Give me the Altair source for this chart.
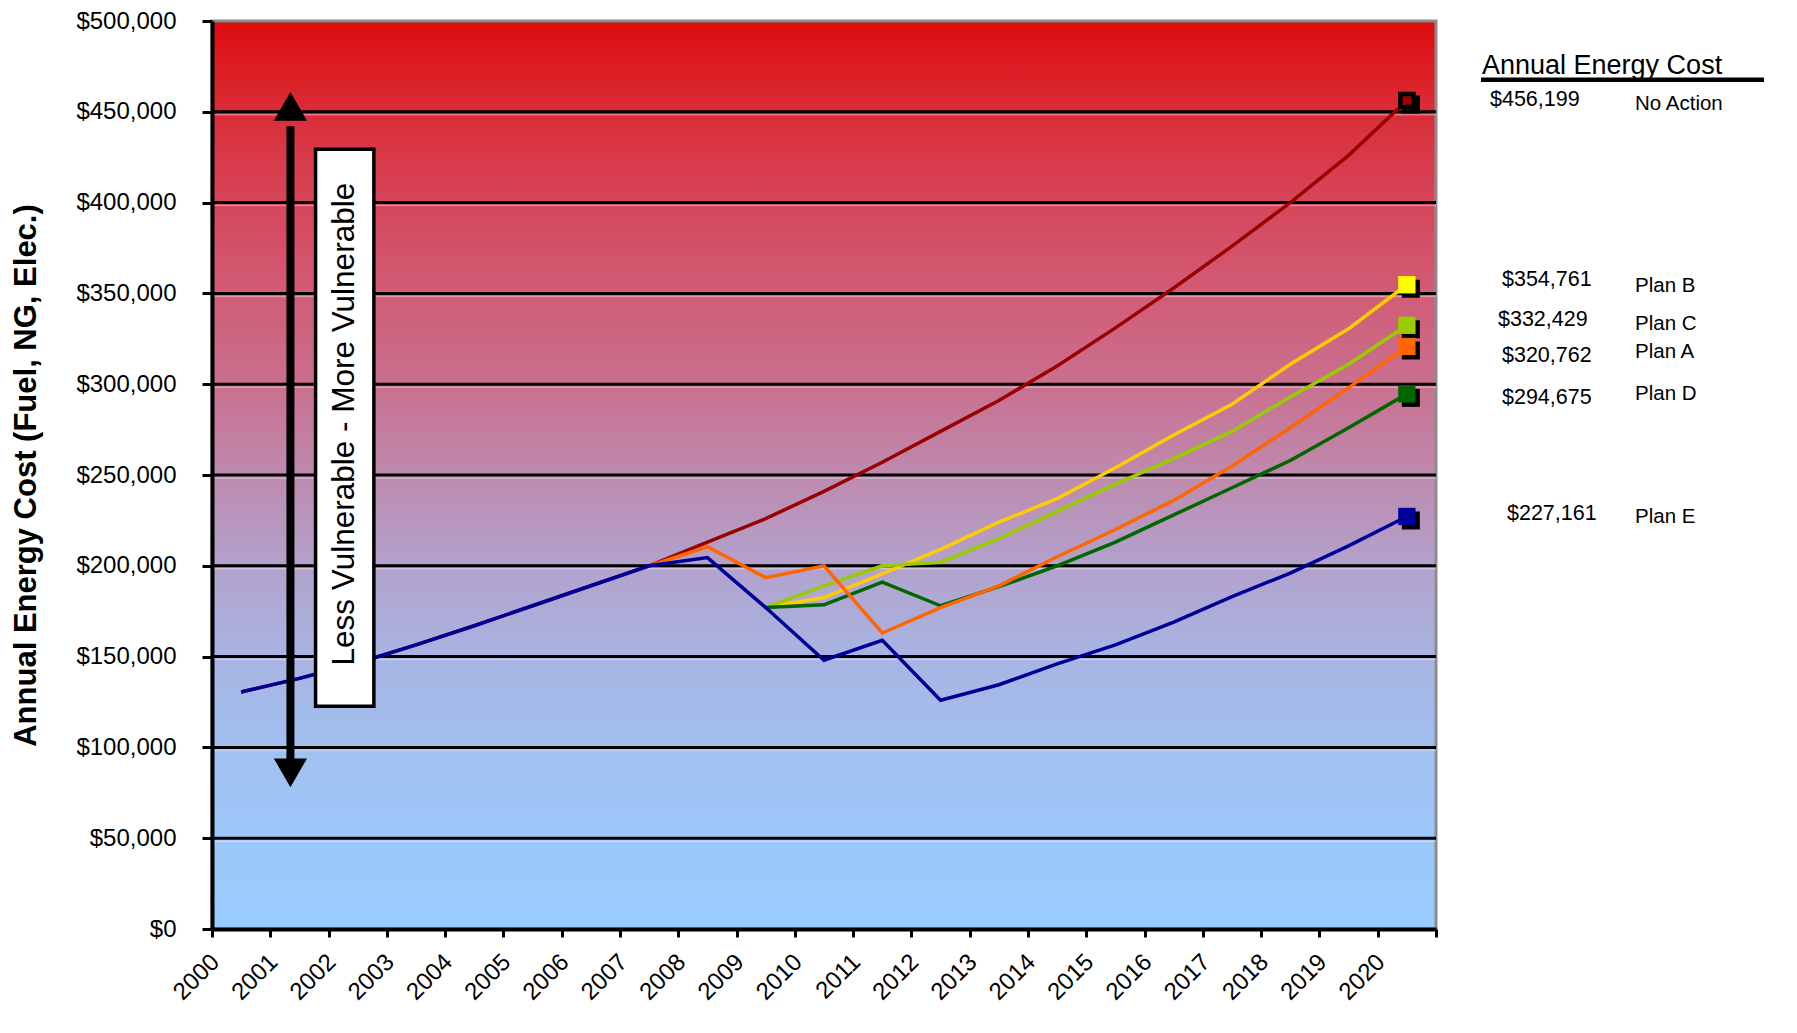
import altair as alt
import pandas as pd

# ---------------- data ----------------
series_names = ["No Action", "Plan A", "Plan B", "Plan C", "Plan D", "Plan E"]
line_colors = ["#990000", "#FF6600", "#FFCC00", "#99CC00", "#006600", "#000099"]
marker_colors = ["#990000", "#FF6600", "#FFFF00", "#99CC00", "#006600", "#000099"]
draw_order = ["No Action", "Plan B", "Plan C", "Plan D", "Plan A", "Plan E"]

base_years = list(range(2000, 2008))
base_values = [130500, 138000, 146500, 156500, 167000, 178000, 189000, 200000]

no_action_years = list(range(2000, 2021))
no_action = base_values + [213000, 226000, 241000, 257000, 274000, 291000, 310000,
                           331000, 353000, 376000, 400000, 426000, 456199]

plan_a_years = list(range(2007, 2021))
plan_a = [200000, 210500, 193500, 200000, 163000, 177000, 189000, 205000, 220000,
          236000, 255000, 276000, 298000, 320762]

plan_bcd_years = list(range(2009, 2021))
plan_b = [177000, 182500, 195500, 209000, 224000, 237000, 254000, 272000, 289000,
          311000, 330500, 354761]
plan_c = [177000, 189000, 200000, 202000, 215000, 230000, 245000, 259000, 274000,
          293000, 311000, 332429]
plan_d = [177000, 178500, 191000, 178000, 188500, 200000, 213000, 228000, 243000,
          258000, 276000, 294675]

plan_e_years = list(range(2000, 2021))
plan_e = base_values + [204500, 177000, 148000, 159000, 126000, 134500, 146000,
                        156500, 169000, 183000, 196000, 211000, 227161]

series_years = {
    "No Action": no_action_years, "Plan A": plan_a_years, "Plan B": plan_bcd_years,
    "Plan C": plan_bcd_years, "Plan D": plan_bcd_years, "Plan E": plan_e_years,
}
series_values = {
    "No Action": no_action, "Plan A": plan_a, "Plan B": plan_b,
    "Plan C": plan_c, "Plan D": plan_d, "Plan E": plan_e,
}

y_ticks = list(range(0, 500001, 50000))
grid_values = list(range(50000, 450001, 50000))

# right-hand cost table
table_values = ["$456,199", "$354,761", "$332,429", "$320,762", "$294,675", "$227,161"]
table_names = ["No Action", "Plan B", "Plan C", "Plan A", "Plan D", "Plan E"]
table_value_y = [453300, 353800, 331900, 312000, 289000, 225300]
table_name_y = [451000, 351000, 329700, 314300, 291200, 223600]
table_value_x = [1278, 1290, 1286, 1290, 1290, 1295]

FONT = "Liberation Sans"
W, H = 1224, 908

# ---------------- frames ----------------
rows = []
for s in series_names:
    for yr, v in zip(series_years[s], series_values[s]):
        rows.append({"series": s, "year": yr, "cost": v})
df = pd.DataFrame(rows)
df_end = df[df["year"] == 2020].copy()

color_scale = alt.Scale(domain=series_names, range=line_colors)
fill_scale = alt.Scale(domain=series_names, range=marker_colors)
y_scale = alt.Scale(domain=[0, 500000], nice=False, zero=True)
x_scale = alt.Scale(paddingInner=0, paddingOuter=0)

x_enc = alt.X(
    "year:O", scale=x_scale,
    axis=alt.Axis(
        title=None, labelAngle=-45, labelAlign="right", labelBaseline="middle",
        labelFont=FONT, labelFontSize=24, labelColor="black", labelOffset=-26,
        labelPadding=21, tickBand="extent", tickSize=8, tickWidth=3, tickColor="black",
        domainColor="black", domainWidth=4, grid=False, zindex=1,
    ),
)
y_enc = alt.Y(
    "cost:Q", scale=y_scale,
    axis=alt.Axis(
        values=y_ticks, format="$,.0f", labelFont=FONT, labelFontSize=24,
        labelColor="black", labelPadding=26, tickSize=10, tickWidth=3, tickColor="black",
        domainColor="black", domainWidth=4, grid=False, zindex=1,
        title="Annual Energy Cost (Fuel, NG, Elec.)", titleFont=FONT, titleFontSize=31,
        titleFontWeight="bold", titleColor="black", titleAngle=270, titleX=-186,
        titleY=H / 2, titleBaseline="middle", titleAlign="center",
    ),
)

# ---------------- background ----------------
gradient = alt.LinearGradient(
    gradient="linear", x1=0, x2=0, y1=0, y2=1,
    stops=[
        alt.GradientStop(color="#DE0C0C", offset=0.0),
        alt.GradientStop(color="#DA2D38", offset=0.1),
        alt.GradientStop(color="#D6465A", offset=0.2),
        alt.GradientStop(color="#D15C76", offset=0.3),
        alt.GradientStop(color="#C9708F", offset=0.4),
        alt.GradientStop(color="#BE8AAE", offset=0.5),
        alt.GradientStop(color="#B2A2CC", offset=0.6),
        alt.GradientStop(color="#A8B4E2", offset=0.7),
        alt.GradientStop(color="#A1C0F0", offset=0.8),
        alt.GradientStop(color="#9CC7F9", offset=0.9),
        alt.GradientStop(color="#99CCFF", offset=1.0),
    ],
)
bg = alt.Chart(pd.DataFrame({"a": [0]})).mark_rect(
    fill=gradient, stroke="#8C8C8C", strokeWidth=3
).encode(
    x=alt.value(0), x2=alt.value("width"), y=alt.value(0), y2=alt.value("height")
)

grid_df = pd.DataFrame({"cost": grid_values})
grid_light = alt.Chart(grid_df).mark_rule(
    color="white", opacity=0.35, strokeWidth=1.5, yOffset=3
).encode(y=alt.Y("cost:Q", scale=y_scale))
grid = alt.Chart(grid_df).mark_rule(color="black", strokeWidth=3).encode(
    y=alt.Y("cost:Q", scale=y_scale)
)

# ---------------- series lines ----------------
line_layers = []
for s in draw_order:
    line_layers.append(
        alt.Chart(df).transform_filter(alt.datum.series == s).mark_line(
            strokeWidth=3.5, strokeJoin="miter"
        ).encode(
            x=x_enc, y=y_enc,
            color=alt.Color("series:N", scale=color_scale, legend=None),
            order=alt.Order("year:O"),
        )
    )

shadow = alt.Chart(df_end).mark_square(
    size=324, color="black", filled=True, opacity=1, xOffset=4, yOffset=4
).encode(x=x_enc, y=y_enc)
markers = alt.Chart(df_end).mark_square(size=300, filled=True, opacity=1).encode(
    x=x_enc, y=y_enc,
    fill=alt.Fill("series:N", scale=fill_scale, legend=None),
)
na_marker = alt.Chart(df_end).transform_filter(alt.datum.series == "No Action").mark_square(
    size=170, fill="#990000", stroke="black", strokeWidth=4.5, opacity=1
).encode(x=x_enc, y=y_enc)

# ---------------- annotation: vulnerability arrow & box ----------------
arrow_df = pd.DataFrame({"year": [2001], "top": [442000], "bottom": [93000],
                         "head_top": [453000], "head_bottom": [86000]})
shaft = alt.Chart(arrow_df).mark_rule(color="black", strokeWidth=8, xOffset=-9).encode(
    x=alt.X("year:O", scale=x_scale),
    y=alt.Y("top:Q", scale=y_scale), y2="bottom:Q",
)
head_up = alt.Chart(arrow_df).mark_point(
    shape="triangle-up", filled=True, color="black", opacity=1, size=1100, xOffset=-9
).encode(x=alt.X("year:O", scale=x_scale), y=alt.Y("head_top:Q", scale=y_scale))
head_down = alt.Chart(arrow_df).mark_point(
    shape="triangle-down", filled=True, color="black", opacity=1, size=1100, xOffset=-9
).encode(x=alt.X("year:O", scale=x_scale), y=alt.Y("head_bottom:Q", scale=y_scale))

box_df = pd.DataFrame({"year": [2002], "top": [429400], "bottom": [122700],
                       "mid": [278000], "label": ["Less Vulnerable - More Vulnerable"]})
box = alt.Chart(box_df).mark_rect(
    fill="white", stroke="black", strokeWidth=3.5, xOffset=-13, x2Offset=-13
).encode(
    x=alt.X("year:O", scale=x_scale),
    y=alt.Y("top:Q", scale=y_scale), y2="bottom:Q",
)
box_text = alt.Chart(box_df).mark_text(
    angle=270, font=FONT, fontSize=31.5, color="black", align="center",
    baseline="middle", xOffset=-13,
).encode(
    x=alt.X("year:O", scale=x_scale), y=alt.Y("mid:Q", scale=y_scale), text="label:N"
)

# ---------------- right-hand table ----------------
table_df = pd.DataFrame({"val": table_values, "name": table_names,
                         "vy": table_value_y, "ny": table_name_y, "vx": table_value_x})
title_df = pd.DataFrame({"t": ["Annual Energy Cost"], "ty": [470900], "uy": [467600]})

tbl_title = alt.Chart(title_df).mark_text(
    font=FONT, fontSize=27, color="black", align="left", baseline="alphabetic"
).encode(x=alt.value(1270), y=alt.Y("ty:Q", scale=y_scale), text="t:N")
tbl_rule = alt.Chart(title_df).mark_rule(color="black", strokeWidth=4.5).encode(
    x=alt.value(1269), x2=alt.value(1552), y=alt.Y("uy:Q", scale=y_scale)
)
tbl_vals = alt.Chart(table_df).mark_text(
    font=FONT, fontSize=21.5, color="black", align="left", baseline="alphabetic"
).encode(
    x=alt.X("vx:Q", scale=None), y=alt.Y("vy:Q", scale=y_scale), text="val:N"
)
tbl_names = alt.Chart(table_df).mark_text(
    font=FONT, fontSize=20.5, color="black", align="left", baseline="alphabetic"
).encode(x=alt.value(1423), y=alt.Y("ny:Q", scale=y_scale), text="name:N")

chart = alt.layer(
    bg, grid_light, grid, *line_layers, shadow, markers, na_marker,
    box, box_text, shaft, head_up, head_down,
    tbl_title, tbl_rule, tbl_vals, tbl_names,
).properties(
    width=W, height=H,
    autosize=alt.AutoSizeParams(type="none"),
    padding={"left": 204, "top": 13, "right": 340, "bottom": 85},
    background="white",
).configure_view(stroke=None)

chart.save("out.html", embed_options={"renderer": "svg", "actions": False})
